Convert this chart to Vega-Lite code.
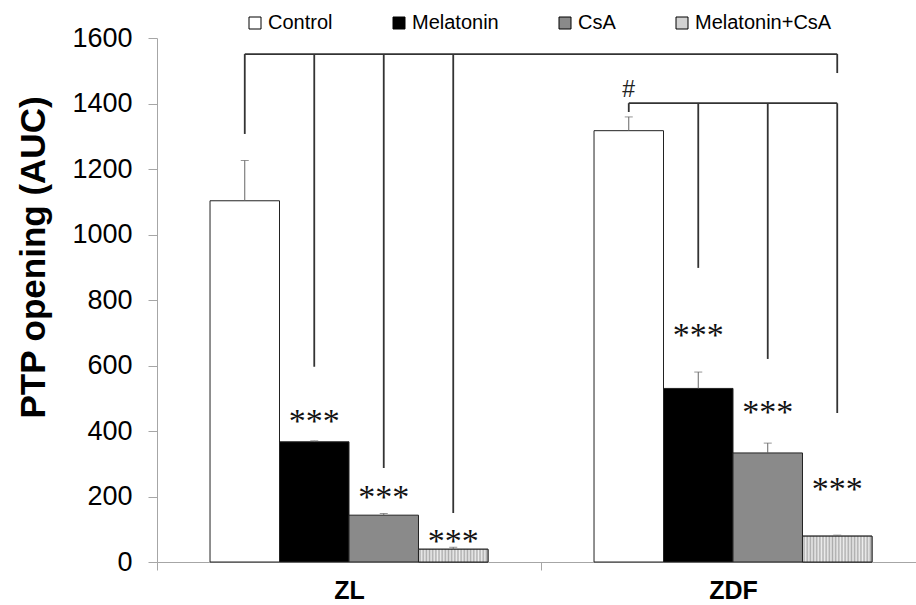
{
  "$schema": "https://vega.github.io/schema/vega-lite/v6.json",
  "width": 759,
  "height": 524,
  "autosize": {"type": "none"},
  "padding": {"left": 157, "top": 38, "right": 0, "bottom": 43},
  "background": "white",
  "config": {
    "view": {"stroke": null},
    "font": "Liberation Sans",
    "legend": {"padding": 0}
  },
  "datasets": {
    "bars": [
      {"group": "ZL", "treatment": "Control", "value": 1103, "upper": 1226},
      {"group": "ZL", "treatment": "Melatonin", "value": 367, "upper": 370},
      {"group": "ZL", "treatment": "CsA", "value": 143, "upper": 148},
      {"group": "ZL", "treatment": "Melatonin+CsA", "value": 39, "upper": 45},
      {"group": "ZDF", "treatment": "Control", "value": 1317, "upper": 1359},
      {"group": "ZDF", "treatment": "Melatonin", "value": 530, "upper": 580},
      {"group": "ZDF", "treatment": "CsA", "value": 333, "upper": 363},
      {"group": "ZDF", "treatment": "Melatonin+CsA", "value": 79, "upper": 82}
    ],
    "brackets": [
      {"seg": "A", "group": "ZL", "treatment": "Control", "y": 1551},
      {"seg": "A", "group": "ZDF", "treatment": "Melatonin+CsA", "y": 1551},
      {"seg": "B", "group": "ZL", "treatment": "Control", "y": 1307},
      {"seg": "B", "group": "ZL", "treatment": "Control", "y": 1551},
      {"seg": "C", "group": "ZL", "treatment": "Melatonin", "y": 596},
      {"seg": "C", "group": "ZL", "treatment": "Melatonin", "y": 1551},
      {"seg": "D", "group": "ZL", "treatment": "CsA", "y": 287},
      {"seg": "D", "group": "ZL", "treatment": "CsA", "y": 1551},
      {"seg": "E", "group": "ZL", "treatment": "Melatonin+CsA", "y": 150},
      {"seg": "E", "group": "ZL", "treatment": "Melatonin+CsA", "y": 1551},
      {"seg": "F", "group": "ZDF", "treatment": "Melatonin+CsA", "y": 1493},
      {"seg": "F", "group": "ZDF", "treatment": "Melatonin+CsA", "y": 1551},
      {"seg": "G", "group": "ZDF", "treatment": "Control", "y": 1401},
      {"seg": "G", "group": "ZDF", "treatment": "Melatonin+CsA", "y": 1401},
      {"seg": "H", "group": "ZDF", "treatment": "Control", "y": 1374},
      {"seg": "H", "group": "ZDF", "treatment": "Control", "y": 1401},
      {"seg": "I", "group": "ZDF", "treatment": "Melatonin", "y": 898},
      {"seg": "I", "group": "ZDF", "treatment": "Melatonin", "y": 1401},
      {"seg": "J", "group": "ZDF", "treatment": "CsA", "y": 620},
      {"seg": "J", "group": "ZDF", "treatment": "CsA", "y": 1401},
      {"seg": "K", "group": "ZDF", "treatment": "Melatonin+CsA", "y": 455},
      {"seg": "K", "group": "ZDF", "treatment": "Melatonin+CsA", "y": 1401}
    ],
    "stars": [
      {"group": "ZL", "treatment": "Melatonin", "y": 397, "text": "***"},
      {"group": "ZL", "treatment": "CsA", "y": 165, "text": "***"},
      {"group": "ZL", "treatment": "Melatonin+CsA", "y": 31, "text": "***"},
      {"group": "ZDF", "treatment": "Melatonin", "y": 660, "text": "***"},
      {"group": "ZDF", "treatment": "CsA", "y": 424, "text": "***"},
      {"group": "ZDF", "treatment": "Melatonin+CsA", "y": 189, "text": "***"}
    ],
    "hash": [
      {"group": "ZDF", "treatment": "Control", "y": 1420, "text": "#"}
    ]
  },
  "layer": [
    {
      "data": {"name": "bars"},
      "mark": {"type": "bar", "stroke": "#222", "strokeWidth": 1},
      "encoding": {
        "x": {
          "field": "group", "type": "nominal",
          "scale": {"domain": ["ZL", "ZDF"], "range": [0, 768], "paddingInner": 0, "paddingOuter": 0},
          "axis": {
            "title": null, "tickBand": "extent", "labelAngle": 0,
            "labelFont": "Liberation Sans", "labelFontWeight": "bold", "labelFontSize": 25,
            "labelColor": "#000", "labelPadding": 8, "tickSize": 8,
            "domainColor": "#a6a6a6", "tickColor": "#a6a6a6"
          }
        },
        "xOffset": {
          "field": "treatment", "type": "nominal",
          "scale": {"domain": ["Control", "Melatonin", "CsA", "Melatonin+CsA"], "paddingInner": 0, "paddingOuter": 0.763}
        },
        "y": {
          "field": "value", "type": "quantitative",
          "scale": {"domain": [0, 1600], "nice": false},
          "axis": {
            "title": "PTP opening (AUC)", "titleFontSize": 35, "titleFontWeight": "bold",
            "titleColor": "#000", "titlePadding": 20, "titleFont": "Liberation Sans", "titleY": 219,
            "values": [0, 200, 400, 600, 800, 1000, 1200, 1400, 1600], "format": "d",
            "grid": false, "tickSize": 9, "labelFontSize": 27, "labelPadding": 16,
            "labelColor": "#000", "labelFont": "Liberation Sans",
            "domainColor": "#a6a6a6", "tickColor": "#a6a6a6"
          }
        },
        "color": {
          "field": "treatment", "type": "nominal",
          "scale": {
            "domain": ["Control", "Melatonin", "CsA", "Melatonin+CsA"],
            "range": ["#ffffff", "#000000", "#8a8a8a", "#d2d2d2"]
          },
          "legend": {
            "title": null, "orient": "none", "legendX": 88, "legendY": -25,
            "direction": "horizontal", "symbolType": "square", "symbolSize": 144,
            "symbolStrokeColor": "#000", "symbolStrokeWidth": 1, "symbolOpacity": 1,
            "labelFontSize": 20, "labelFont": "Liberation Sans", "labelColor": "#000",
            "labelOffset": 3, "columnPadding": 56
          }
        }
      }
    },
    {
      "data": {"name": "bars"},
      "transform": [{"filter": "datum.treatment === 'Melatonin+CsA'"}],
      "mark": {
        "type": "bar", "stroke": "#222", "strokeWidth": 1,
        "color": {"gradient": "linear", "x1": 0, "x2": 1, "y1": 0, "y2": 0, "stops": [
          {"offset": 0, "color": "#eeeeee"}, {"offset": 0.0227, "color": "#adadad"},
          {"offset": 0.0455, "color": "#eeeeee"}, {"offset": 0.0682, "color": "#adadad"},
          {"offset": 0.0909, "color": "#eeeeee"}, {"offset": 0.1136, "color": "#adadad"},
          {"offset": 0.1364, "color": "#eeeeee"}, {"offset": 0.1591, "color": "#adadad"},
          {"offset": 0.1818, "color": "#eeeeee"}, {"offset": 0.2045, "color": "#adadad"},
          {"offset": 0.2273, "color": "#eeeeee"}, {"offset": 0.25, "color": "#adadad"},
          {"offset": 0.2727, "color": "#eeeeee"}, {"offset": 0.2955, "color": "#adadad"},
          {"offset": 0.3182, "color": "#eeeeee"}, {"offset": 0.3409, "color": "#adadad"},
          {"offset": 0.3636, "color": "#eeeeee"}, {"offset": 0.3864, "color": "#adadad"},
          {"offset": 0.4091, "color": "#eeeeee"}, {"offset": 0.4318, "color": "#adadad"},
          {"offset": 0.4545, "color": "#eeeeee"}, {"offset": 0.4773, "color": "#adadad"},
          {"offset": 0.5, "color": "#eeeeee"}, {"offset": 0.5227, "color": "#adadad"},
          {"offset": 0.5455, "color": "#eeeeee"}, {"offset": 0.5682, "color": "#adadad"},
          {"offset": 0.5909, "color": "#eeeeee"}, {"offset": 0.6136, "color": "#adadad"},
          {"offset": 0.6364, "color": "#eeeeee"}, {"offset": 0.6591, "color": "#adadad"},
          {"offset": 0.6818, "color": "#eeeeee"}, {"offset": 0.7045, "color": "#adadad"},
          {"offset": 0.7273, "color": "#eeeeee"}, {"offset": 0.75, "color": "#adadad"},
          {"offset": 0.7727, "color": "#eeeeee"}, {"offset": 0.7955, "color": "#adadad"},
          {"offset": 0.8182, "color": "#eeeeee"}, {"offset": 0.8409, "color": "#adadad"},
          {"offset": 0.8636, "color": "#eeeeee"}, {"offset": 0.8864, "color": "#adadad"},
          {"offset": 0.9091, "color": "#eeeeee"}, {"offset": 0.9318, "color": "#adadad"},
          {"offset": 0.9545, "color": "#eeeeee"}, {"offset": 0.9773, "color": "#adadad"},
          {"offset": 1, "color": "#eeeeee"}
        ]}
      },
      "encoding": {
        "x": {"field": "group", "type": "nominal"},
        "xOffset": {"field": "treatment", "type": "nominal"},
        "y": {"field": "value", "type": "quantitative"}
      }
    },
    {
      "data": {"name": "bars"},
      "mark": {"type": "rule", "color": "#666", "strokeWidth": 1},
      "encoding": {
        "x": {"field": "group", "type": "nominal"},
        "xOffset": {"field": "treatment", "type": "nominal"},
        "y": {"field": "value", "type": "quantitative"},
        "y2": {"field": "upper"}
      }
    },
    {
      "data": {"name": "bars"},
      "mark": {"type": "tick", "color": "#666", "size": 8, "thickness": 1, "orient": "horizontal"},
      "encoding": {
        "x": {"field": "group", "type": "nominal"},
        "xOffset": {"field": "treatment", "type": "nominal"},
        "y": {"field": "upper", "type": "quantitative"}
      }
    },
    {
      "data": {"name": "brackets"},
      "mark": {"type": "line", "color": "#333", "strokeWidth": 1.8},
      "encoding": {
        "x": {"field": "group", "type": "nominal"},
        "xOffset": {"field": "treatment", "type": "nominal"},
        "y": {"field": "y", "type": "quantitative"},
        "detail": {"field": "seg", "type": "nominal"}
      }
    },
    {
      "data": {"name": "stars"},
      "mark": {"type": "text", "font": "Liberation Serif", "fontSize": 34, "color": "#111", "baseline": "alphabetic", "align": "center"},
      "encoding": {
        "x": {"field": "group", "type": "nominal"},
        "xOffset": {"field": "treatment", "type": "nominal"},
        "y": {"field": "y", "type": "quantitative"},
        "text": {"field": "text"}
      }
    },
    {
      "data": {"name": "hash"},
      "mark": {"type": "text", "font": "Liberation Sans", "fontSize": 23, "color": "#222", "baseline": "alphabetic", "align": "center"},
      "encoding": {
        "x": {"field": "group", "type": "nominal"},
        "xOffset": {"field": "treatment", "type": "nominal"},
        "y": {"field": "y", "type": "quantitative"},
        "text": {"field": "text"}
      }
    }
  ]
}
